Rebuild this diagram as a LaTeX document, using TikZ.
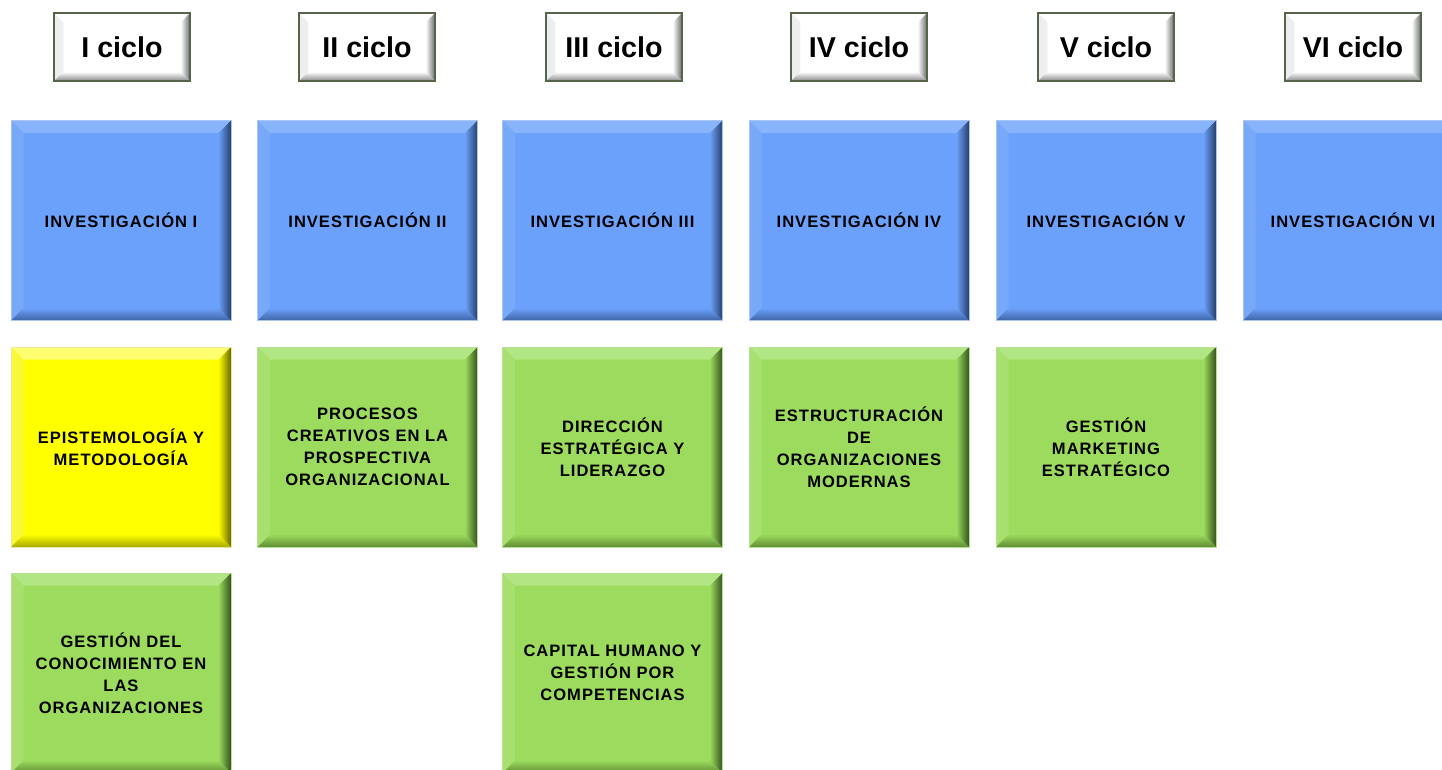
\documentclass[tikz,border=0pt]{standalone}
\usepackage{fontspec}
\setmainfont{Liberation Sans}
\newfontfamily\boxfont[LetterSpace=6]{Liberation Sans}
\definecolor{blueface}{HTML}{6CA1FB}
\definecolor{bluetop}{HTML}{88B4FC}
\definecolor{blueleft}{HTML}{78A9F8}
\definecolor{blueright}{HTML}{263F6A}
\definecolor{bluebot}{HTML}{3F64A6}
\definecolor{blueedge}{HTML}{A9C4EE}
\definecolor{greenface}{HTML}{9CDB5E}
\definecolor{greentop}{HTML}{B2E684}
\definecolor{greenleft}{HTML}{A8E070}
\definecolor{greenright}{HTML}{34531C}
\definecolor{greenbot}{HTML}{5F8E34}
\definecolor{greenedge}{HTML}{B8DE98}
\definecolor{yellowface}{HTML}{FFFF00}
\definecolor{yellowtop}{HTML}{FFFF70}
\definecolor{yellowleft}{HTML}{F8F838}
\definecolor{yellowright}{HTML}{666600}
\definecolor{yellowbot}{HTML}{A8A800}
\definecolor{yellowedge}{HTML}{E8E8A0}
\definecolor{whiteface}{HTML}{FFFFFF}
\definecolor{whitetop}{HTML}{FFFFFF}
\definecolor{whiteleft}{HTML}{EEEEEE}
\definecolor{whiteright}{HTML}{6A6A6A}
\definecolor{whitebot}{HTML}{8A8A8A}
\definecolor{whiteedge}{HTML}{56654A}
\tikzset{
  bevel/.style 2 args={
    fill=#1face, draw=#1edge,
    path picture={
      \fill[#1top] (path picture bounding box.north west) -- (path picture bounding box.north east)
        -- ([shift={(-#2,-#2)}]path picture bounding box.north east)
        -- ([shift={(#2,-#2)}]path picture bounding box.north west) -- cycle;
      \fill[#1left] (path picture bounding box.north west) -- ([shift={(#2,-#2)}]path picture bounding box.north west)
        -- ([shift={(#2,#2)}]path picture bounding box.south west)
        -- (path picture bounding box.south west) -- cycle;
      \shade[left color=#1face, right color=#1right] (path picture bounding box.north east)
        -- ([shift={(-#2,-#2)}]path picture bounding box.north east)
        -- ([shift={(-#2,#2)}]path picture bounding box.south east)
        -- (path picture bounding box.south east) -- cycle;
      \shade[top color=#1face, bottom color=#1bot] (path picture bounding box.south west)
        -- ([shift={(#2,#2)}]path picture bounding box.south west)
        -- ([shift={(-#2,#2)}]path picture bounding box.south east)
        -- (path picture bounding box.south east) -- cycle;
    }
  },
  course/.style={inner sep=0pt, align=center, minimum width=165pt, minimum height=150pt,
    line width=0.6pt, font=\boxfont\bfseries\fontsize{12.4}{16.5}\selectfont},
  bluebox/.style={course, bevel={blue}{9.5pt}},
  greenbox/.style={course, bevel={green}{9.5pt}},
  yellowbox/.style={course, bevel={yellow}{9.5pt}},
  cyclebox/.style={bevel={white}{7pt}, line width=1.8pt, inner sep=0pt,
    minimum width=102pt, minimum height=51pt,
    font=\bfseries\fontsize{21.5}{24}\selectfont},
}
\begin{document}
\begin{tikzpicture}[x=0.75pt, y=-0.75pt]
\useasboundingbox (0,0) rectangle (1442,769);
\clip (0,0) rectangle (1442,769);
% cycle headers
\node[cyclebox] (c1) at (122,47)  {I ciclo};
\node[cyclebox] (c2) at (367,47)  {II ciclo};
\node[cyclebox] (c3) at (614,47)  {III ciclo};
\node[cyclebox] (c4) at (859,47)  {IV ciclo};
\node[cyclebox] (c5) at (1106,47) {V ciclo};
\node[cyclebox] (c6) at (1353,47) {VI ciclo};
% research row
\node[bluebox] (i1) at (121,220.5)  {INVESTIGACIÓN I};
\node[bluebox] (i2) at (367.5,220.5){INVESTIGACIÓN II};
\node[bluebox] (i3) at (612.5,220.5){INVESTIGACIÓN III};
\node[bluebox] (i4) at (859,220.5)  {INVESTIGACIÓN IV};
\node[bluebox] (i5) at (1106,220.5) {INVESTIGACIÓN V};
\node[bluebox] (i6) at (1353,220.5) {INVESTIGACIÓN VI};
% second row
\node[yellowbox] (e1) at (121,447)  {EPISTEMOLOGÍA Y\\METODOLOGÍA};
\node[greenbox] (p2) at (367.5,447) {PROCESOS\\CREATIVOS EN LA\\PROSPECTIVA\\ORGANIZACIONAL};
\node[greenbox] (d3) at (612.5,447) {DIRECCIÓN\\ESTRATÉGICA Y\\LIDERAZGO};
\node[greenbox] (s4) at (859,447)   {ESTRUCTURACIÓN\\DE\\ORGANIZACIONES\\MODERNAS};
\node[greenbox] (g5) at (1106,447)  {GESTIÓN\\MARKETING\\ESTRATÉGICO};
% third row
\node[greenbox] (k1) at (121,673)   {GESTIÓN DEL\\CONOCIMIENTO EN\\LAS\\ORGANIZACIONES};
\node[greenbox] (h3) at (612.5,673) {CAPITAL HUMANO Y\\GESTIÓN POR\\COMPETENCIAS};
\end{tikzpicture}
\end{document}
